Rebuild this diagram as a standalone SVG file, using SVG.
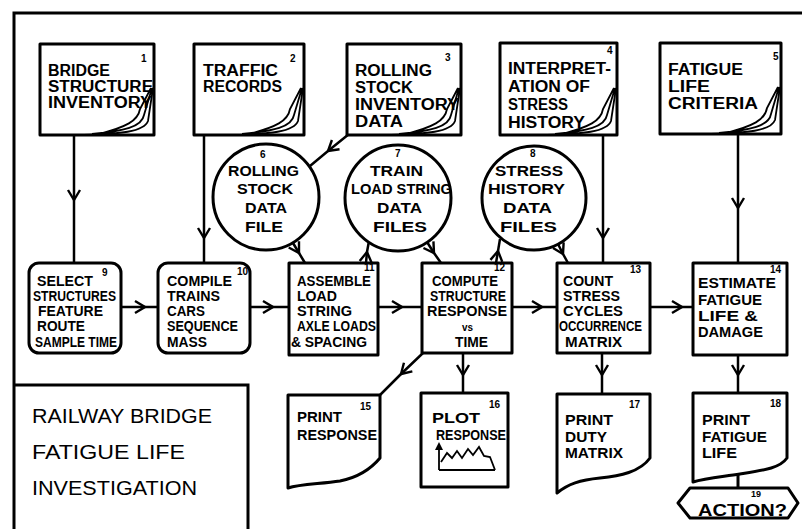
<svg xmlns="http://www.w3.org/2000/svg" width="802" height="529" viewBox="0 0 802 529">
<defs>
<style>
.o{fill:#fff;stroke:#000;stroke-width:3;stroke-linejoin:round}
.f{fill:none;stroke:#000;stroke-width:3}
.k{fill:none;stroke:#000;stroke-width:1.8}
.c{fill:none;stroke:#000;stroke-width:2.5;marker-mid:url(#chev)}
text{font-family:"Liberation Sans",Arial,sans-serif;font-weight:bold;fill:#000}
.s14{font-size:14px}
.s15{font-size:15px}
.s16{font-size:16px}
.n{font-size:10px}
.ti{font-size:21px;font-weight:normal}
</style>
<marker id="chev" viewBox="-12 -8 14 16" markerWidth="14" markerHeight="16" refX="0" refY="0" orient="auto" markerUnits="userSpaceOnUse">
<path d="M-10,-6 L0,0 L-10,6" fill="none" stroke="#000" stroke-width="2.4"/>
</marker>
<path id="curl" class="k" d="M-70,0 C-35,-1 -10,-3 -6,-14 L-1,-47 M-62,-1 C-30,-4 -12,-8 -10,-20 L-2,-47 M-55,-1 C-28,-8 -16,-14 -14,-26 L-3,-47"/>
</defs>

<g id="frame">
<path class="f" d="M802,13 L14,13 L14,529"/>
<path class="f" d="M14,385 L248,385 L248,529"/>
<text class="ti" x="32" y="423" textLength="180" lengthAdjust="spacingAndGlyphs">RAILWAY BRIDGE</text>
<text class="ti" x="32" y="459" textLength="153" lengthAdjust="spacingAndGlyphs">FATIGUE LIFE</text>
<text class="ti" x="32" y="495" textLength="165" lengthAdjust="spacingAndGlyphs">INVESTIGATION</text>
</g>

<g id="connectors">
<path class="c" d="M74,135 L74,200 L74,263"/>
<path class="c" d="M204,135 L204,238 L204,263"/>
<path class="c" d="M603,135 L603,238 L603,263"/>
<path class="c" d="M738,134 L738,208 L738,263"/>
<path class="c" d="M349,134 L328,151 L310,166"/>
<path class="c" d="M293,243 L299,253 L305,263"/>
<path class="c" d="M366,263 L367,252 L369,241"/>
<path class="c" d="M427,242 L434,253 L441,263"/>
<path class="c" d="M496,263 L498,251 L500,239"/>
<path class="c" d="M558,244 L563,254 L568,263"/>
<path class="c" d="M121,307 L145,307 L158,307"/>
<path class="c" d="M250,307 L273,307 L289,307"/>
<path class="c" d="M378,307 L402,307 L422,307"/>
<path class="c" d="M512,307 L542,307 L557,307"/>
<path class="c" d="M650,307 L682,307 L693,307"/>
<path class="c" d="M423,353 L401,374 L380,395"/>
<path class="c" d="M463,353 L463,375 L463,393"/>
<path class="c" d="M602,353 L602,375 L602,394"/>
<path class="c" d="M738,355 L738,375 L738,393"/>
<path class="f" d="M738,474 L738,488"/>
</g>

<g id="n1">
<rect class="o" x="40" y="44" width="114" height="91"/>
<use href="#curl" x="154" y="135"/>
<text class="n" x="141" y="62">1</text>
<text class="s16" x="48" y="76" textLength="62" lengthAdjust="spacingAndGlyphs">BRIDGE</text>
<text class="s16" x="48" y="92" textLength="105" lengthAdjust="spacingAndGlyphs">STRUCTURE</text>
<text class="s16" x="48" y="108" textLength="104" lengthAdjust="spacingAndGlyphs">INVENTORY</text>
</g>
<g id="n2">
<rect class="o" x="194" y="44" width="110" height="91"/>
<use href="#curl" x="304" y="135"/>
<text class="n" x="290" y="62">2</text>
<text class="s16" x="203" y="76" textLength="75" lengthAdjust="spacingAndGlyphs">TRAFFIC</text>
<text class="s16" x="203" y="92" textLength="79" lengthAdjust="spacingAndGlyphs">RECORDS</text>
</g>
<g id="n3">
<rect class="o" x="347" y="44" width="114" height="91"/>
<use href="#curl" x="461" y="135"/>
<text class="n" x="445" y="61">3</text>
<text class="s16" x="355" y="76" textLength="77" lengthAdjust="spacingAndGlyphs">ROLLING</text>
<text class="s16" x="355" y="93" textLength="58" lengthAdjust="spacingAndGlyphs">STOCK</text>
<text class="s16" x="355" y="110" textLength="104" lengthAdjust="spacingAndGlyphs">INVENTORY</text>
<text class="s16" x="355" y="127" textLength="48" lengthAdjust="spacingAndGlyphs">DATA</text>
</g>
<g id="n4">
<rect class="o" x="500" y="43" width="117" height="92"/>
<use href="#curl" x="617" y="135"/>
<text class="n" x="607" y="54">4</text>
<text class="s16" x="508" y="74" textLength="103" lengthAdjust="spacingAndGlyphs">INTERPRET-</text>
<text class="s16" x="508" y="92" textLength="82" lengthAdjust="spacingAndGlyphs">ATION OF</text>
<text class="s16" x="508" y="110" textLength="60" lengthAdjust="spacingAndGlyphs">STRESS</text>
<text class="s16" x="508" y="128" textLength="77" lengthAdjust="spacingAndGlyphs">HISTORY</text>
</g>
<g id="n5">
<rect class="o" x="660" y="43" width="121" height="91"/>
<use href="#curl" x="781" y="134"/>
<text class="n" x="773" y="60">5</text>
<text class="s16" x="668" y="75" textLength="75" lengthAdjust="spacingAndGlyphs">FATIGUE</text>
<text class="s16" x="668" y="92" textLength="42" lengthAdjust="spacingAndGlyphs">LIFE</text>
<text class="s16" x="668" y="109" textLength="90" lengthAdjust="spacingAndGlyphs">CRITERIA</text>
</g>

<g id="n6">
<circle class="o" cx="266" cy="197" r="53"/>
<text class="n" x="260" y="158">6</text>
<text class="s15" x="228" y="176" textLength="71" lengthAdjust="spacingAndGlyphs">ROLLING</text>
<text class="s15" x="237" y="194" textLength="56" lengthAdjust="spacingAndGlyphs">STOCK</text>
<text class="s15" x="245" y="213" textLength="42" lengthAdjust="spacingAndGlyphs">DATA</text>
<text class="s15" x="245" y="232" textLength="38" lengthAdjust="spacingAndGlyphs">FILE</text>
</g>
<g id="n7">
<circle class="o" cx="398" cy="198" r="53"/>
<text class="n" x="395" y="157">7</text>
<text class="s15" x="370" y="176" textLength="53" lengthAdjust="spacingAndGlyphs">TRAIN</text>
<text class="s15" x="351" y="194" textLength="101" lengthAdjust="spacingAndGlyphs">LOAD STRING</text>
<text class="s15" x="377" y="213" textLength="45" lengthAdjust="spacingAndGlyphs">DATA</text>
<text class="s15" x="373" y="232" textLength="54" lengthAdjust="spacingAndGlyphs">FILES</text>
</g>
<g id="n8">
<circle class="o" cx="534" cy="198" r="52"/>
<text class="n" x="530" y="157">8</text>
<text class="s15" x="495" y="176" textLength="68" lengthAdjust="spacingAndGlyphs">STRESS</text>
<text class="s15" x="488" y="194" textLength="77" lengthAdjust="spacingAndGlyphs">HISTORY</text>
<text class="s15" x="503" y="213" textLength="49" lengthAdjust="spacingAndGlyphs">DATA</text>
<text class="s15" x="500" y="232" textLength="57" lengthAdjust="spacingAndGlyphs">FILES</text>
</g>

<g id="n9">
<rect class="o" x="29" y="263" width="92" height="90" rx="10"/>
<text class="n" x="102" y="276">9</text>
<text class="s14" x="37" y="286" textLength="56" lengthAdjust="spacingAndGlyphs">SELECT</text>
<text class="s14" x="33" y="301" textLength="83" lengthAdjust="spacingAndGlyphs">STRUCTURES</text>
<text class="s14" x="38" y="316" textLength="65" lengthAdjust="spacingAndGlyphs">FEATURE</text>
<text class="s14" x="37" y="331" textLength="48" lengthAdjust="spacingAndGlyphs">ROUTE</text>
<text class="s14" x="35" y="347" textLength="82" lengthAdjust="spacingAndGlyphs">SAMPLE TIME</text>
</g>
<g id="n10">
<rect class="o" x="158" y="263" width="92" height="90" rx="10"/>
<text class="n" x="237" y="275">10</text>
<text class="s14" x="167" y="286" textLength="65" lengthAdjust="spacingAndGlyphs">COMPILE</text>
<text class="s14" x="167" y="301" textLength="53" lengthAdjust="spacingAndGlyphs">TRAINS</text>
<text class="s14" x="167" y="316" textLength="38" lengthAdjust="spacingAndGlyphs">CARS</text>
<text class="s14" x="167" y="331" textLength="71" lengthAdjust="spacingAndGlyphs">SEQUENCE</text>
<text class="s14" x="167" y="347" textLength="40" lengthAdjust="spacingAndGlyphs">MASS</text>
</g>
<g id="n11">
<rect class="o" x="289" y="263" width="89" height="92"/>
<text class="n" x="364" y="271">11</text>
<text class="s14" x="297" y="286" textLength="74" lengthAdjust="spacingAndGlyphs">ASSEMBLE</text>
<text class="s14" x="297" y="301" textLength="40" lengthAdjust="spacingAndGlyphs">LOAD</text>
<text class="s14" x="297" y="316" textLength="55" lengthAdjust="spacingAndGlyphs">STRING</text>
<text class="s14" x="297" y="331" textLength="79" lengthAdjust="spacingAndGlyphs">AXLE LOADS</text>
<text class="s14" x="291" y="347" textLength="76" lengthAdjust="spacingAndGlyphs">&amp; SPACING</text>
</g>
<g id="n12">
<rect class="o" x="422" y="263" width="90" height="90"/>
<text class="n" x="494" y="271">12</text>
<text class="s14" x="432" y="286" textLength="66" lengthAdjust="spacingAndGlyphs">COMPUTE</text>
<text class="s14" x="430" y="301" textLength="76" lengthAdjust="spacingAndGlyphs">STRUCTURE</text>
<text class="s14" x="427" y="316" textLength="80" lengthAdjust="spacingAndGlyphs">RESPONSE</text>
<text x="462" y="331" style="font-size:11px" textLength="11" lengthAdjust="spacingAndGlyphs">vs</text>
<text class="s14" x="455" y="347" textLength="33" lengthAdjust="spacingAndGlyphs">TIME</text>
</g>
<g id="n13">
<rect class="o" x="557" y="263" width="93" height="90"/>
<text class="n" x="630" y="273">13</text>
<text class="s14" x="563" y="286" textLength="50" lengthAdjust="spacingAndGlyphs">COUNT</text>
<text class="s14" x="563" y="301" textLength="57" lengthAdjust="spacingAndGlyphs">STRESS</text>
<text class="s14" x="563" y="316" textLength="60" lengthAdjust="spacingAndGlyphs">CYCLES</text>
<text class="s14" x="559" y="331" textLength="83" lengthAdjust="spacingAndGlyphs">OCCURRENCE</text>
<text class="s14" x="565" y="347" textLength="57" lengthAdjust="spacingAndGlyphs">MATRIX</text>
</g>
<g id="n14">
<rect class="o" x="693" y="263" width="94" height="92"/>
<text class="n" x="770" y="273">14</text>
<text class="s15" x="698" y="288" textLength="78" lengthAdjust="spacingAndGlyphs">ESTIMATE</text>
<text class="s15" x="698" y="305" textLength="64" lengthAdjust="spacingAndGlyphs">FATIGUE</text>
<text class="s15" x="698" y="321" textLength="60" lengthAdjust="spacingAndGlyphs">LIFE &amp;</text>
<text class="s15" x="698" y="337" textLength="65" lengthAdjust="spacingAndGlyphs">DAMAGE</text>
</g>

<g id="n15">
<path class="o" d="M288,395 L380,395 L380,458 C370,470 355,478 340,481 C320,484 300,484 288,488 Z"/>
<text class="n" x="360" y="410">15</text>
<text class="s15" x="297" y="422" textLength="45" lengthAdjust="spacingAndGlyphs">PRINT</text>
<text class="s15" x="297" y="440" textLength="80" lengthAdjust="spacingAndGlyphs">RESPONSE</text>
</g>
<g id="n16">
<rect class="o" x="421" y="393" width="87" height="94"/>
<text class="n" x="489" y="408">16</text>
<text class="s15" x="432" y="423" textLength="48" lengthAdjust="spacingAndGlyphs">PLOT</text>
<text class="s15" x="436" y="440" textLength="70" lengthAdjust="spacingAndGlyphs">RESPONSE</text>
<path class="k" d="M439,470 L495,470 M439,470 L439,448"/>
<path d="M435,450 L439,442 L443,450 Z" fill="#000"/>
<path class="k" d="M441,462 L447,453 L452,458 L457,451 L462,458 L468,449 L473,455 L479,447 L484,456 L490,457 L495,470"/>
</g>
<g id="n17">
<path class="o" d="M557,394 L650,394 L650,458 C640,472 620,476 600,478 C580,480 568,484 557,493 Z"/>
<text class="n" x="629" y="408">17</text>
<text class="s15" x="565" y="425" textLength="48" lengthAdjust="spacingAndGlyphs">PRINT</text>
<text class="s15" x="565" y="442" textLength="42" lengthAdjust="spacingAndGlyphs">DUTY</text>
<text class="s15" x="565" y="458" textLength="58" lengthAdjust="spacingAndGlyphs">MATRIX</text>
</g>
<g id="n18">
<path class="o" d="M693,393 L787,393 L787,458 C780,468 765,470 740,474 C720,477 705,478 693,482 Z"/>
<text class="n" x="770" y="407">18</text>
<text class="s15" x="702" y="425" textLength="48" lengthAdjust="spacingAndGlyphs">PRINT</text>
<text class="s15" x="702" y="442" textLength="65" lengthAdjust="spacingAndGlyphs">FATIGUE</text>
<text class="s15" x="702" y="458" textLength="35" lengthAdjust="spacingAndGlyphs">LIFE</text>
</g>
<g id="n19">
<polygon class="o" points="678,503 690,488 788,488 798,503 788,518 690,518"/>
<text x="751" y="497" style="font-size:9px">19</text>
<text x="698" y="516" style="font-size:17px" textLength="89" lengthAdjust="spacingAndGlyphs">ACTION?</text>
</g>
</svg>
